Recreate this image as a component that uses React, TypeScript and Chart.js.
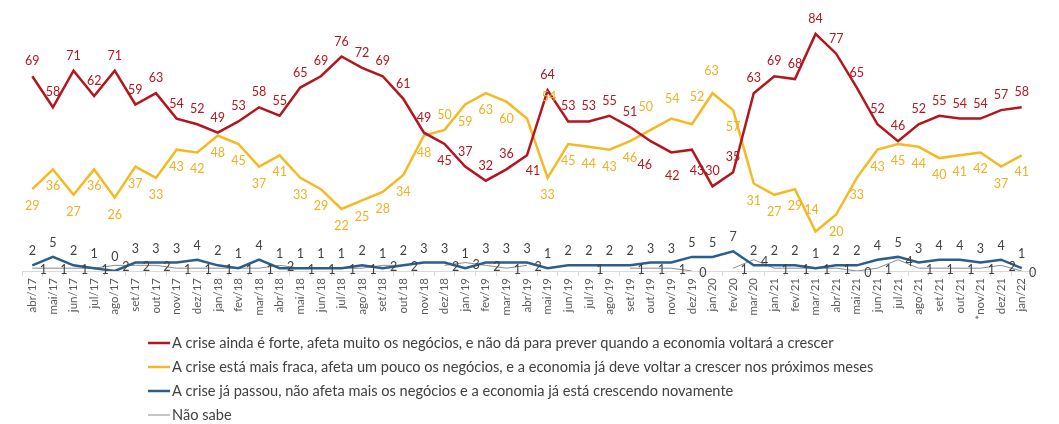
import { useEffect, useRef } from 'react';
import Chart from 'chart.js/auto';

const months = [
  'abr/17', 'mai/17', 'jun/17', 'jul/17', 'ago/17', 'set/17', 'out/17', 'nov/17', 'dez/17',
  'jan/18', 'fev/18', 'mar/18', 'abr/18', 'mai/18', 'jun/18', 'jul/18', 'ago/18', 'set/18',
  'out/18', 'nov/18', 'dez/18', 'jan/19', 'fev/19', 'mar/19', 'abr/19', 'mai/19', 'jun/19',
  'jul/19', 'ago/19', 'set/19', 'out/19', 'nov/19', 'dez/19', 'jan/20', 'fev/20', 'mar/20',
  'jan/21', 'fev/21', 'mar/21', 'abr/21', 'mai/21', 'jun/21', 'jul/21', 'ago/21', 'set/21',
  'out/21', '*nov/21', 'dez/21', 'jan/22',
];

const seriesNames = [
  'A crise ainda é forte, afeta muito os negócios, e não dá para prever quando a economia voltará a crescer',
  'A crise está mais fraca, afeta um pouco os negócios, e a economia já deve voltar a crescer nos próximos meses',
  'A crise já passou, não afeta mais os negócios e a economia já está crescendo novamente',
  'Não sabe',
];

const aindaForte = [
  69, 58, 71, 62, 71, 59, 63, 54, 52, 49, 53, 58, 55, 65, 69, 76, 72, 69, 61, 49, 45, 37, 32, 36, 41,
  64, 53, 53, 55, 51, 46, 42, 43, 30, 35, 63, 69, 68, 84, 77, 65, 52, 46, 52, 55, 54, 54, 57, 58,
];

const maisFraca = [
  29, 36, 27, 36, 26, 37, 33, 43, 42, 48, 45, 37, 41, 33, 29, 22, 25, 28, 34, 48, 50, 59, 63, 60, 54,
  33, 45, 44, 43, 46, 50, 54, 52, 63, 57, 31, 27, 29, 14, 20, 33, 43, 45, 44, 40, 41, 42, 37, 41,
];

const jaPassou = [
  2, 5, 2, 1, 0, 3, 3, 3, 4, 2, 1, 4, 1, 1, 1, 1, 2, 1, 2, 3, 3, 1, 3, 3, 3,
  1, 2, 2, 2, 2, 3, 3, 5, 5, 7, 2, 2, 2, 1, 2, 2, 4, 5, 3, 4, 4, 3, 4, 1,
];

const naoSabe: (number | null)[] = [
  1, 1, 1, 1, 2, 2, 2, 1, 1, 1, 1, 1, 2, 1, 1, 1, 1, 2, 2, null, 2, 3, 2, 1, 2,
  null, null, 1, null, 1, 1, 1, 0, null, 1, 4, 1, 1, 1, 1, 0, 1, 4, 1, 1, 1, 1, 2, 0,
];

const colors = ['#B3161E', '#F5B923', '#2A5E8C', '#8C8C8C'];
const lineWidths = [2.5, 2.5, 2.5, 1];
const labelColors = ['#B3161E', '#F0B020', '#404040', '#404040'];
// default label offset per series: [dx, dy]
const labelOffsets: [number, number][] = [[0, -15], [0, 17], [0, -14], [11, 2]];
// hand-moved labels, like in the original sheet
const labelMoves: Record<number, Record<number, [number, number]>> = {
  0: { 20: [0, 17], 24: [6, 16], 30: [-6, 24], 31: [1, 24], 32: [5, 21] },
  1: { 20: [0, -15], 24: [22, -22], 30: [-5, -23], 31: [1, -20], 32: [5, -27], 33: [-1, -22], 38: [-4, -22] },
};

const FONT = 'Lato, "Open Sans", sans-serif';

const pointLabels = {
  id: 'pointLabels',
  afterDatasetsDraw(chart: any) {
    const ctx = chart.ctx;
    ctx.save();
    ctx.font = `12.5px ${FONT}`;
    ctx.textAlign = 'center';
    ctx.textBaseline = 'middle';
    chart.data.datasets.forEach((ds: any, i: number) => {
      const meta = chart.getDatasetMeta(i);
      ctx.fillStyle = labelColors[i];
      meta.data.forEach((pt: any, j: number) => {
        const v = ds.data[j];
        if (v == null) return;
        const [dx, dy] = labelMoves[i]?.[j] ?? labelOffsets[i];
        ctx.fillText(String(v), pt.x + dx, pt.y + dy);
      });
    });
    ctx.restore();
  },
};

const sideLegend = {
  id: 'sideLegend',
  afterDraw(chart: any) {
    const ctx = chart.ctx;
    ctx.save();
    ctx.font = `14.6px ${FONT}`;
    ctx.textBaseline = 'middle';
    ctx.textAlign = 'left';
    chart.data.datasets.forEach((ds: any, i: number) => {
      const y = 343 + i * 24;
      ctx.strokeStyle = colors[i];
      ctx.lineWidth = i === 3 ? 1 : 2.5;
      ctx.beginPath();
      ctx.moveTo(148, y);
      ctx.lineTo(170, y);
      ctx.stroke();
      ctx.fillStyle = '#404040';
      ctx.fillText(ds.label, 172, y);
    });
    ctx.restore();
  },
};

export default function App() {
  const canvasRef = useRef<HTMLCanvasElement>(null);
  const chartRef = useRef<Chart | null>(null);

  useEffect(() => {
    document.body.style.margin = '0';
    if (!canvasRef.current) return;
    if (chartRef.current) chartRef.current.destroy();

    const series = [aindaForte, maisFraca, jaPassou, naoSabe];

    chartRef.current = new Chart(canvasRef.current, {
      type: 'line',
      data: {
        labels: months,
        datasets: series.map((data, i) => ({
          label: seriesNames[i],
          data,
          borderColor: colors[i],
          backgroundColor: colors[i],
          borderWidth: lineWidths[i],
          pointRadius: 0,
          tension: 0,
          spanGaps: false,
        })),
      },
      plugins: [pointLabels, sideLegend],
      options: {
        animation: false,
        responsive: true,
        maintainAspectRatio: false,
        layout: { padding: { left: 22, right: 27, top: 17, bottom: 103 } },
        plugins: {
          legend: { display: false },
          tooltip: { enabled: false },
        },
        scales: {
          x: {
            offset: true,
            afterFit: (scale: any) => { scale.height = 50; },
            grid: {
              offset: true,
              drawOnChartArea: false,
              drawTicks: true,
              tickLength: 5,
              color: '#d9d9d9',
            },
            border: { color: '#d9d9d9' },
            ticks: {
              autoSkip: false,
              minRotation: 90,
              maxRotation: 90,
              padding: 2,
              color: '#595959',
              font: { family: FONT, size: 11.5 },
            },
          },
          y: {
            display: false,
            min: 0,
            max: 90,
          },
        },
      },
    });

    return () => chartRef.current?.destroy();
  }, []);

  return (
    <div style={{ width: 1059, height: 424, position: 'relative', background: '#fff' }}>
      <canvas ref={canvasRef} />
    </div>
  );
}
